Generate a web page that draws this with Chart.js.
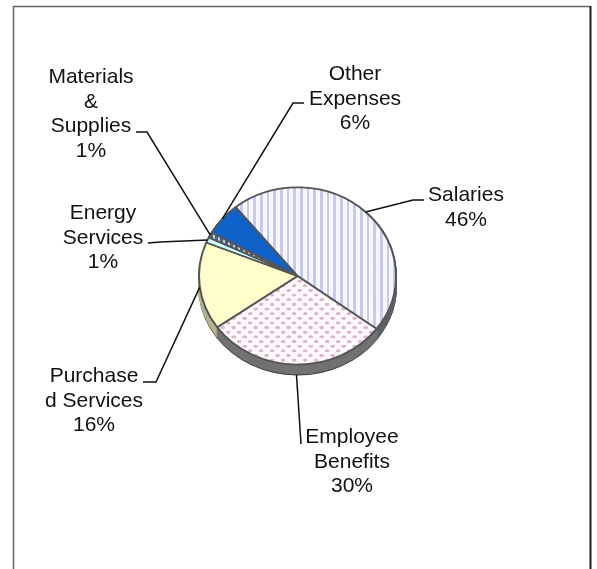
<!DOCTYPE html>
<html>
<head>
<meta charset="utf-8">
<title>Expenses pie</title>
<script src="https://cdn.jsdelivr.net/npm/chart.js@4"></script>
<style>
  html, body { margin: 0; padding: 0; background: #fff; overflow: hidden; }
  canvas { display: block; }
</style>
</head>
<body>
<canvas id="pieChart" width="597" height="569"></canvas>
<script>
const categories = ['Salaries', 'Employee Benefits', 'Purchased Services', 'Energy Services', 'Materials & Supplies', 'Other Expenses'];
const values = [46, 30, 16, 1, 1, 6];
// the line breaks as they appear in the picture
const labelLines = [
    ['Salaries'],
    ['Employee', 'Benefits'],
    ['Purchase', 'd Services'],
    ['Energy', 'Services'],
    ['Materials', '&', 'Supplies'],
    ['Other', 'Expenses']
];

// layout of the labels and leader lines
const labelX = [466, 352, 94, 103, 91, 355];
const labelBaseline = [201, 443, 382, 219, 83, 80];
const lineHeight = 24.5;
const leaderStart = [[424, 200], [301, 444], [143, 382], [148, 243], [136, 132], [304, 103]];
const leaderElbow = [[413, 200], [301, 444], [156, 382], [160, 242], [147, 132], [293, 103]];

const squash = 0.9;   // pie is tilted, so it is an ellipse
const depth = 10;     // thickness of the pie edge in px
const sideColors = ['#5f5f68', '#727272', '#b4b48c', '#8aa0a0', '#666a78', '#0a4a96'];

function makePattern(w, h, ground, paint) {
    let tile = document.createElement('canvas');
    tile.width = w;
    tile.height = h;
    let c = tile.getContext('2d');
    c.fillStyle = ground;
    c.fillRect(0, 0, w, h);
    paint(c);
    let pattern = c.createPattern(tile, 'repeat');
    pattern.setTransform(new DOMMatrix().scale(1 / 3));
    return pattern;
}

const stripes = makePattern(20, 3, '#f8f8ff', function(c) {
    c.fillStyle = '#c8c8f4';
    c.fillRect(0, 0, 8, 3);
});

const dots = makePattern(33, 31, '#fdf8fb', function(c) {
    c.fillStyle = '#dcb6ca';
    c.beginPath();
    c.ellipse(8, 8, 7, 5, 0, 0, Math.PI * 2);
    c.ellipse(24.5, 23.5, 7, 5, 0, 0, Math.PI * 2);
    c.fill();
});

const dashes = makePattern(15, 9, '#c4d0e4', function(c) {
    c.fillStyle = '#4a6088';
    c.fillRect(0, 0, 9, 9);
});

const pieDecor = {
    id: 'pieDecor',
    beforeDatasetsDraw(chart) {
        let ctx = chart.ctx;
        let arcs = chart.getDatasetMeta(0).data;
        let cx = arcs[0].x;
        let cy = arcs[0].y;
        ctx.save();
        ctx.translate(cx, cy);
        ctx.scale(1, squash);
        ctx.translate(-cx, -cy);
        // edge of the pie: the same arcs stacked downwards
        for (let d = depth; d >= 1; d--) {
            ctx.save();
            ctx.translate(0, d / squash);
            arcs.forEach((arc, i) => {
                let saved = arc.options;
                let color = d === depth ? '#3c3c3c' : sideColors[i];
                arc.options = Object.assign({}, saved, { backgroundColor: color, borderColor: color });
                arc.draw(ctx);
                arc.options = saved;
            });
            ctx.restore();
        }
    },
    afterDatasetsDraw(chart) {
        let ctx = chart.ctx;
        ctx.restore();
        let arcs = chart.getDatasetMeta(0).data;

        // frame, runs off the bottom of the picture
        ctx.strokeStyle = '#666666';
        ctx.lineWidth = 1.5;
        ctx.beginPath();
        ctx.moveTo(13.5, 569);
        ctx.lineTo(13.5, 6.5);
        ctx.lineTo(590, 6.5);
        ctx.stroke();
        ctx.strokeStyle = '#222222';
        ctx.lineWidth = 2;
        ctx.beginPath();
        ctx.moveTo(590.5, 6);
        ctx.lineTo(590.5, 569);
        ctx.stroke();

        // leader lines
        ctx.strokeStyle = '#111111';
        ctx.lineWidth = 1.5;
        arcs.forEach((arc, i) => {
            let mid = (arc.startAngle + arc.endAngle) / 2;
            let endX = arc.x + Math.cos(mid) * arc.outerRadius;
            let endY = arc.y + Math.sin(mid) * arc.outerRadius * squash + depth * Math.max(0, Math.sin(mid));
            ctx.beginPath();
            ctx.moveTo(leaderStart[i][0], leaderStart[i][1]);
            ctx.lineTo(leaderElbow[i][0], leaderElbow[i][1]);
            ctx.lineTo(endX, endY);
            ctx.stroke();
        });

        // labels
        ctx.fillStyle = '#111111';
        ctx.font = '21px "Liberation Sans"';
        ctx.textAlign = 'center';
        ctx.textBaseline = 'alphabetic';
        labelLines.forEach((lines, i) => {
            lines.concat(values[i] + '%').forEach((line, n) => {
                ctx.fillText(line, labelX[i], labelBaseline[i] + n * lineHeight);
            });
        });
    }
};

let ctx = document.getElementById('pieChart').getContext('2d');
let pieChart = new Chart(ctx, {
    type: 'pie',
    data: {
        labels: categories,
        datasets: [{
            data: values,
            backgroundColor: [stripes, dots, '#ffffcc', '#ccffff', dashes, '#0f62c9'],
            borderColor: '#555555',
            borderWidth: 2,
            clip: false
        }]
    },
    options: {
        responsive: false,
        animation: false,
        rotation: -39,
        layout: { padding: { left: 198, right: 200, top: 176.5, bottom: 193.5 } },
        plugins: {
            legend: { display: false },
            tooltip: { enabled: false }
        }
    },
    plugins: [pieDecor]
});
</script>
</body>
</html>
